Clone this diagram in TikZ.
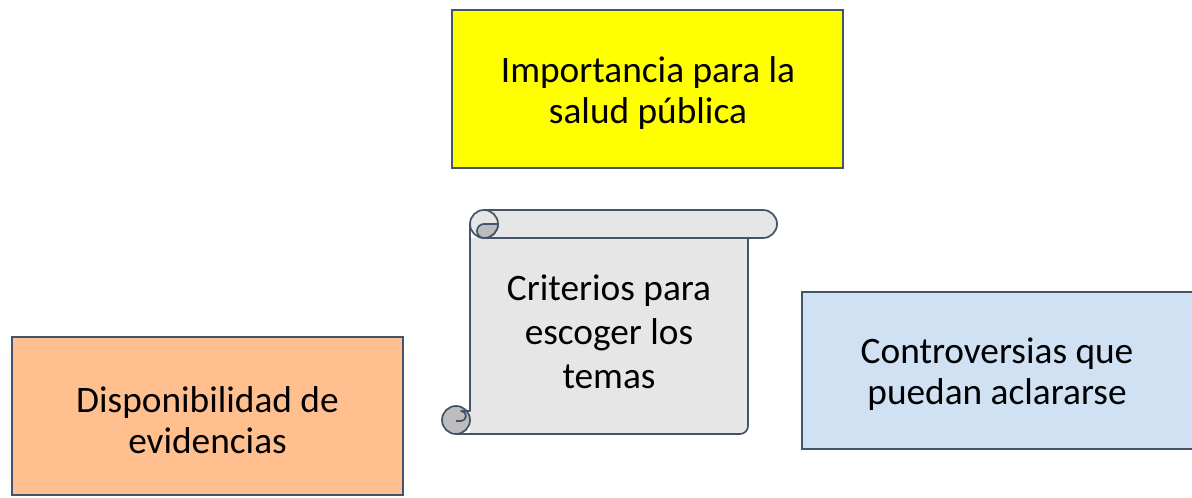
\documentclass[tikz,border=0pt]{standalone}
\usepackage{fontspec}
\setmainfont{Carlito}
\definecolor{edge}{HTML}{44546A}
\definecolor{yel}{HTML}{FFFF00}
\definecolor{ora}{HTML}{FFBF8F}
\definecolor{blu}{HTML}{CFE1F3}
\definecolor{light}{HTML}{E6E6E6}
\definecolor{curl}{HTML}{BDBDBD}
\tikzset{
  box/.style={draw=edge, line width=1.5pt},
  lbl/.style={align=center, font=\fontsize{28}{31}\selectfont, text=black},
  sline/.style={draw=edge, line width=1.3pt, line join=round},
}
\begin{document}
\begin{tikzpicture}[x=0.75pt,y=0.75pt]
\useasboundingbox (0,0) rectangle (1192,497);
% boxes
\path[box, fill=yel] (452,329) rectangle (843,487);
\path[box, fill=ora] (12,2) rectangle (403,160);
\path[box, fill=blu] (802,48) rectangle (1196,205);
% scroll body
\fill[light] (470,259) -- (470,63) -- (740,63) arc[start angle=-90,end angle=0,radius=8] -- (748,259) -- cycle;
\path[sline, fill=light] (484,287) -- (763,287) arc[start angle=90,end angle=-90,radius=14] -- (484,259) arc[start angle=-90,end angle=-270,radius=14] -- cycle;
\draw[sline] (484,287) arc[start angle=90,end angle=-90,radius=14];
\path[sline, fill=curl] (484,273) arc[start angle=90,end angle=270,radius=7] arc[start angle=-90,end angle=0,radius=14] -- cycle;
\path[sline, fill=curl] (456,77) circle[radius=14];
\draw[sline] (470,273) -- (470,86) -- (461,86) arc[start angle=90,end angle=-90,radius=5] -- (456,76);
\draw[sline] (456,63) -- (740,63) arc[start angle=-90,end angle=0,radius=8] -- (748,259);
% texts
\node[lbl] (imp) at (648,404) {Importancia para la\\salud pública};
\node[lbl] (dis) at (207.5,77) {Disponibilidad de\\evidencias};
\node[lbl] (con) at (997,123) {Controversias que\\puedan aclararse};
\node[lbl, font=\fontsize{28}{33}\selectfont] (cri) at (609,165) {Criterios para\\escoger los\\temas};
\end{tikzpicture}
\end{document}
